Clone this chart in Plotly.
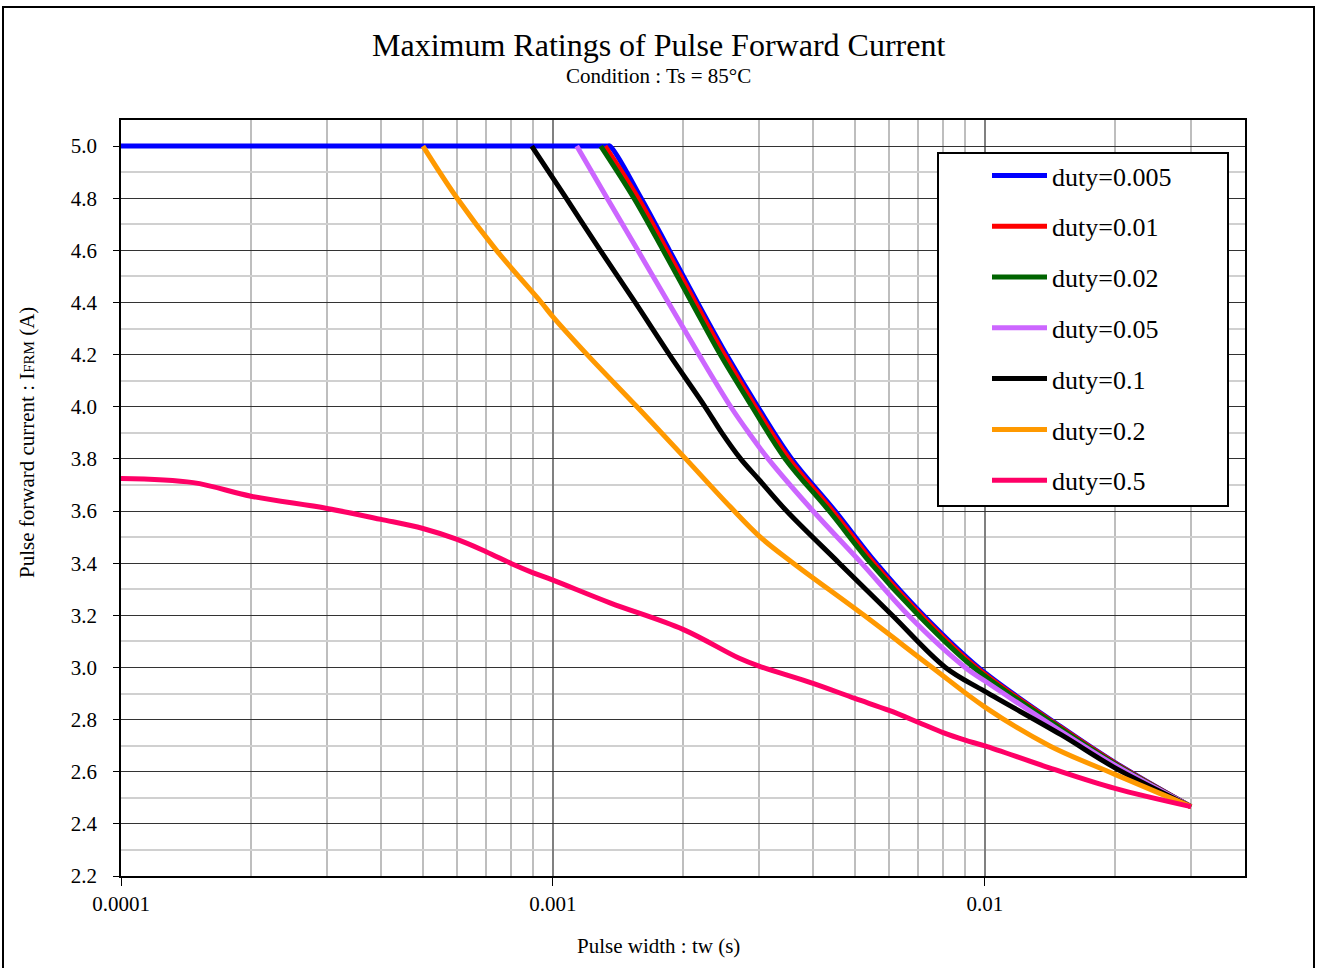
import math
import plotly.graph_objects as go

# ---------------- data ----------------
names = ["duty=0.005", "duty=0.01", "duty=0.02", "duty=0.05", "duty=0.1", "duty=0.2", "duty=0.5"]
colors = ["#0000FF", "#FF0000", "#006400", "#CC66FF", "#000000", "#FF9900", "#FF0066"]

x_005 = [1e-4, 1.335e-3, 1.355e-3, 1.6e-3, 1.86e-3, 2.16e-3, 2.52e-3, 2.98e-3, 3.57e-3, 4.5e-3, 5.6e-3, 7.2e-3, 9.65e-3, 0.015, 0.02, 0.03]
y_005 = [5.0, 5.0, 5.0, 4.8, 4.6, 4.4, 4.2, 4.0, 3.8, 3.6, 3.4, 3.2, 3.0, 2.772, 2.635, 2.466]

x_01 = [1.32e-3, 1.575e-3, 1.835e-3, 2.135e-3, 2.49e-3, 2.94e-3, 3.52e-3, 4.44e-3, 5.53e-3, 7.12e-3, 9.55e-3, 0.015, 0.02, 0.03]
y_01 = [5.0, 4.8, 4.6, 4.4, 4.2, 4.0, 3.8, 3.6, 3.4, 3.2, 3.0, 2.769, 2.633, 2.466]

x_02 = [1.29e-3, 1.54e-3, 1.8e-3, 2.095e-3, 2.44e-3, 2.89e-3, 3.45e-3, 4.36e-3, 5.44e-3, 7.02e-3, 9.42e-3, 0.015, 0.02, 0.03]
y_02 = [5.0, 4.8, 4.6, 4.4, 4.2, 4.0, 3.8, 3.6, 3.4, 3.2, 3.0, 2.765, 2.630, 2.466]

x_05 = [1.135e-3, 1.335e-3, 1.572e-3, 1.85e-3, 2.178e-3, 2.58e-3, 2.84e-3, 3.15e-3, 4.0e-3, 5.18e-3, 6.65e-3, 9.0e-3, 0.01, 0.015, 0.02, 0.03]
y_05 = [5.0, 4.8, 4.6, 4.4, 4.2, 4.0, 3.9, 3.8, 3.6, 3.4, 3.2, 3.0, 2.948, 2.755, 2.625, 2.466]

x_1 = [8.93e-4, 1.073e-3, 1.287e-3, 1.55e-3, 1.86e-3, 2.25e-3, 2.46e-3, 2.72e-3, 3.0e-3, 3.475e-3, 4.6e-3, 6.1e-3, 8.1e-3, 0.01, 0.015, 0.02, 0.03]
y_1 = [5.0, 4.8, 4.6, 4.4, 4.2, 4.0, 3.9, 3.8, 3.72, 3.6, 3.4, 3.2, 3.0, 2.908, 2.742, 2.615, 2.466]

x_2 = [5e-4, 6e-4, 7.4e-4, 9.4e-4, 1e-3, 1.2e-3, 1.565e-3, 2.03e-3, 2.57e-3, 3.02e-3, 3.6e-3, 5.25e-3, 7.55e-3, 0.01, 0.0141, 0.02, 0.03]
y_2 = [5.0, 4.8, 4.6, 4.4, 4.345, 4.2, 4.0, 3.8, 3.617, 3.5, 3.4, 3.2, 3.0, 2.848, 2.700, 2.590, 2.466]

x_5 = [1e-4, 1.47e-4, 2e-4, 3e-4, 4e-4, 5e-4, 6e-4, 7e-4, 8e-4, 9e-4, 1e-3, 1.355e-3, 2e-3, 2.7e-3, 3e-3, 4e-3, 5e-3, 6e-3, 7e-3, 8e-3, 9e-3, 0.01, 0.0141, 0.02, 0.03]
y_5 = [3.725, 3.709, 3.657, 3.610, 3.568, 3.533, 3.491, 3.444, 3.399, 3.363, 3.335, 3.248, 3.146, 3.035, 3.005, 2.939, 2.881, 2.835, 2.790, 2.750, 2.721, 2.699, 2.615, 2.536, 2.466]

xs = [x_005, x_01, x_02, x_05, x_1, x_2, x_5]
ys = [y_005, y_01, y_02, y_05, y_1, y_2, y_5]

x_tickvals = [1e-4, 1e-3, 1e-2]
x_ticktext = ["0.0001", "0.001", "0.01"]
x_minor = [m * 10 ** e for e in (-4, -3, -2) for m in range(2, 10) if m * 10 ** e < 0.0399]
x_max = 0.04

title_text = "Maximum Ratings of Pulse Forward Current"
subtitle_text = "Condition : Ts = 85°C"
x_title = "Pulse width : tw (s)"
y_title = "Pulse forward current : I<span style='font-size:15px'>FRM</span> (A)"

FONT = "Liberation Serif, Times New Roman, serif"

fig = go.Figure()
for i, (nm, c, xv, yv) in enumerate(zip(names, colors, xs, ys)):
    fig.add_trace(go.Scatter(
        x=xv, y=yv, mode="lines", name=nm,
        line=dict(color=c, width=5, shape="spline", smoothing=1.0),
        legendgroup=nm,
    ))

L, R, T, B = 121, 75, 120, 92
W, H = 1320, 968
pw, ph = W - L - R, H - T - B

def px(xp):
    return (xp - L) / pw

def py(yp):
    return (H - B - yp) / ph

fig.update_layout(
    width=W, height=H,
    margin=dict(l=L, r=R, t=T, b=B),
    paper_bgcolor="white", plot_bgcolor="white",
    font=dict(family=FONT, color="black", size=21),
    showlegend=True,
    legend=dict(
        x=px(987), y=py(152), xanchor="left", yanchor="top",
        bgcolor="rgba(0,0,0,0)", borderwidth=0,
        font=dict(size=26, family=FONT),
        traceorder="grouped", tracegroupgap=14,
        itemwidth=55,
    ),
    annotations=[
        dict(text=title_text, x=px(658), y=py(45), xref="paper", yref="paper",
             showarrow=False, font=dict(size=32, family=FONT), xanchor="center", yanchor="middle"),
        dict(text=subtitle_text, x=px(658), y=py(76), xref="paper", yref="paper",
             showarrow=False, font=dict(size=21, family=FONT), xanchor="center", yanchor="middle"),
        dict(text=x_title, x=px(658), y=py(946), xref="paper", yref="paper",
             showarrow=False, font=dict(size=21, family=FONT), xanchor="center", yanchor="middle"),
        dict(text=y_title, x=px(27), y=py(443), xref="paper", yref="paper", textangle=-90,
             showarrow=False, font=dict(size=21, family=FONT), xanchor="center", yanchor="middle"),
    ],
    shapes=[
        dict(type="rect", xref="paper", yref="paper", x0=px(3), x1=px(1314), y0=py(975), y1=py(7),
             line=dict(color="black", width=2), fillcolor="rgba(0,0,0,0)", layer="below"),
        dict(type="rect", xref="paper", yref="paper", x0=px(938), x1=px(1228), y0=py(506), y1=py(153),
             line=dict(color="black", width=2), fillcolor="white", layer="above"),
    ],
)

fig.update_xaxes(
    type="log", range=[-4, math.log10(x_max)],
    tickmode="array", tickvals=x_tickvals, ticktext=x_ticktext,
    ticks="outside", ticklen=8, tickcolor="black", tickwidth=1,
    showgrid=True, gridcolor="#808080", gridwidth=1.5,
    minor=dict(tickmode="array", tickvals=x_minor, showgrid=True, gridcolor="#BEBEBE", gridwidth=1.5, ticks=""),
    showline=True, linecolor="black", linewidth=1.5, mirror=True,
    zeroline=False, tickfont=dict(size=21, family=FONT),
)
fig.update_yaxes(
    range=[2.2, 5.1], tickmode="linear", tick0=2.2, dtick=0.2, tickformat=".1f",
    ticks="outside", ticklen=6, tickcolor="black", tickwidth=1,
    ticklabelstandoff=12,
    showgrid=True, gridcolor="#333333", gridwidth=1,
    minor=dict(tickmode="linear", tick0=2.3, dtick=0.2, showgrid=True, gridcolor="#D0D0D0", gridwidth=1.5, ticks=""),
    showline=True, linecolor="black", linewidth=1.5, mirror=True,
    zeroline=False, tickfont=dict(size=21, family=FONT),
)

fig.write_html(
    "out.html",
    config={"displayModeBar": False},
    post_script="document.body.style.margin='0';document.body.style.overflow='hidden';",
)
